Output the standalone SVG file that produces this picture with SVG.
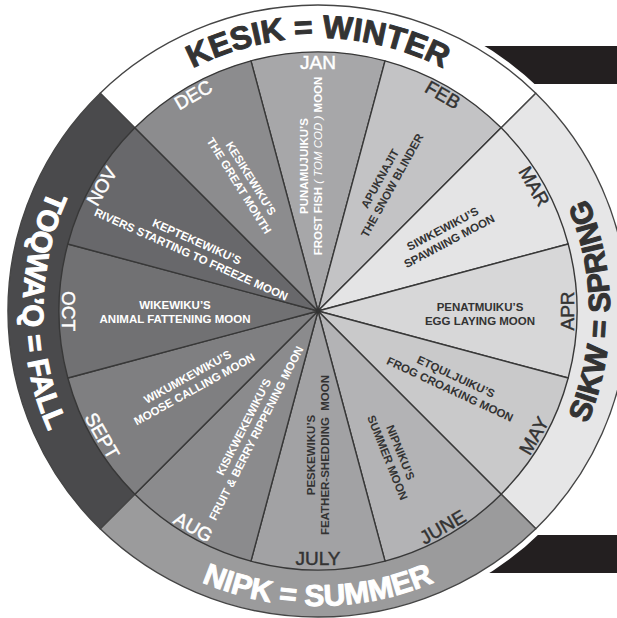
<svg xmlns="http://www.w3.org/2000/svg" width="617" height="618" viewBox="0 0 617 618">
<style>
.sec{stroke:#383838;stroke-width:1.4;stroke-linejoin:round}
.ring{stroke:#454545;stroke-width:1.4;stroke-linejoin:round}
.season{font-family:"Liberation Sans",Arial,sans-serif;font-weight:bold;stroke-width:1;stroke-linejoin:round}
.mon{font-family:"Liberation Sans",Arial,sans-serif;font-size:19px;text-anchor:middle;stroke-width:0.45}
.moon{font-family:"Liberation Sans",Arial,sans-serif;font-size:11.5px;font-weight:bold;text-anchor:middle}
.w{fill:#ffffff;stroke:#ffffff}
.d{fill:#333333;stroke:#333333}
.moon.w,.moon.d{stroke:none}
.it{font-style:italic;font-weight:normal}
</style>
<defs>
<path id="pWinter" d="M45,311 A273,273 0 0 1 591,311"/>
<path id="pSpring" d="M318,603 A292,292 0 0 0 318,19"/>
<path id="pSummer" d="M23,311 A295,295 0 0 0 613,311"/>
<path id="pFall" d="M318,16 A295,295 0 0 0 318,606"/>
</defs>
<rect width="617" height="618" fill="#ffffff"/>
<g id="bars">
<rect x="440" y="46" width="177" height="38" fill="#231f20"/>
<rect x="440" y="535" width="177" height="38" fill="#231f20"/>
</g>
<ellipse cx="318" cy="311" rx="310" ry="306" fill="#ffffff" stroke="#ffffff" stroke-width="12"/>
<g id="seasons">
<g id="winter">
<path class="ring" fill="#ffffff" d="M318,311 L100.2,93.2 A310,306 0 0 1 535.8,93.2 Z"/>
<text class="season d" font-size="32"><textPath href="#pWinter" startOffset="50%" text-anchor="middle">KESIK = WINTER</textPath></text>
</g>
<g id="spring">
<path class="ring" fill="#e6e6e7" d="M318,311 L535.8,93.2 A310,306 0 0 1 535.8,528.8 Z"/>
<text class="season d" font-size="30.5"><textPath href="#pSpring" startOffset="50%" text-anchor="middle">SIKW = SPRING</textPath></text>
</g>
<g id="summer">
<path class="ring" fill="#9b9b9c" d="M318,311 L535.8,528.8 A310,306 0 0 1 100.2,528.8 Z"/>
<text class="season w" font-size="30"><textPath href="#pSummer" startOffset="50%" text-anchor="middle">NIPK = SUMMER</textPath></text>
</g>
<g id="fall">
<path class="ring" fill="#4a4a4c" d="M318,311 L100.2,528.8 A310,306 0 0 1 100.2,93.2 Z"/>
<text class="season w" font-size="29.5"><textPath href="#pFall" startOffset="50%" text-anchor="middle">TOQWA’Q = FALL</textPath></text>
</g>
</g>
<g id="months">
<g id="jan">
<path class="sec" fill="#a7a7a9" d="M318,311 L250.97,60.82 A259,259 0 0 1 385.03,60.82 Z"/>
<text class="mon w" x="318" y="69">JAN</text>
<g transform="translate(311,166) rotate(-90)"><text class="moon w" y="-3">PUNAMUJUIKU’S</text><text class="moon w" y="11">FROST FISH <tspan class="it">( TOM COD )</tspan> MOON</text></g>
</g>
<g id="feb">
<path class="sec" fill="#c3c3c5" d="M318,311 L385.03,60.82 A259,259 0 0 1 501.14,127.86 Z"/>
<text class="mon d" x="318" y="68" transform="rotate(30 318 311)">FEB</text>
<g transform="translate(386,182) rotate(-61)"><text class="moon d" y="-3">APUKNAJIT</text><text class="moon d" y="11">THE SNOW BLINDER</text></g>
</g>
<g id="mar">
<path class="sec" fill="#e4e4e5" d="M318,311 L501.14,127.86 A259,259 0 0 1 568.18,243.97 Z"/>
<text class="mon d" x="318" y="68" transform="rotate(60 318 311)">MAR</text>
<g transform="translate(446,235) rotate(-28)"><text class="moon d" y="-3">SIWKEWIKU’S</text><text class="moon d" y="11">SPAWNING MOON</text></g>
</g>
<g id="apr">
<path class="sec" fill="#d7d7d8" d="M318,311 L568.18,243.97 A259,259 0 0 1 568.18,378.03 Z"/>
<text class="mon d" x="318" y="567" transform="rotate(-90 318 311)">APR</text>
<g transform="translate(480,314)"><text class="moon d" y="-3">PENATMUIKU’S</text><text class="moon d" y="11">EGG LAYING MOON</text></g>
</g>
<g id="may">
<path class="sec" fill="#c9c9ca" d="M318,311 L568.18,378.03 A259,259 0 0 1 501.14,494.14 Z"/>
<text class="mon d" x="318" y="567" transform="rotate(-60 318 311)">MAY</text>
<g transform="translate(453,383) rotate(25)"><text class="moon d" y="-3">ETQULJUIKU’S</text><text class="moon d" y="11">FROG CROAKING MOON</text></g>
</g>
<g id="june">
<path class="sec" fill="#b3b3b5" d="M318,311 L501.14,494.14 A259,259 0 0 1 385.03,561.18 Z"/>
<text class="mon d" x="318" y="567" transform="rotate(-30 318 311)">JUNE</text>
<g transform="translate(394,455) rotate(68)"><text class="moon d" y="-3">NIPNIKU’S</text><text class="moon d" y="11">SUMMER MOON</text></g>
</g>
<g id="july">
<path class="sec" fill="#a2a2a4" d="M318,311 L385.03,561.18 A259,259 0 0 1 250.97,561.18 Z"/>
<text class="mon d" x="318" y="565">JULY</text>
<g transform="translate(318,455) rotate(-90)"><text class="moon d" y="-3">PESKEWIKU’S</text><text class="moon d" y="11" xml:space="preserve">FEATHER-SHEDDING  MOON</text></g>
</g>
<g id="aug">
<path class="sec" fill="#8b8b8d" d="M318,311 L250.97,561.18 A259,259 0 0 1 134.86,494.14 Z"/>
<text class="mon w" x="318" y="567" transform="rotate(30 318 311)">AUG</text>
<g transform="translate(250,430) rotate(-63)"><text class="moon w" y="-3">KISIKWEKEWIKU’S</text><text class="moon w" y="11">FRUIT &amp; BERRY RIPPENING MOON</text></g>
</g>
<g id="sept">
<path class="sec" fill="#7f7f81" d="M318,311 L134.86,494.14 A259,259 0 0 1 67.82,378.03 Z"/>
<text class="mon w" x="318" y="567" transform="rotate(60 318 311)">SEPT</text>
<g transform="translate(191,383) rotate(-29)"><text class="moon w" y="-3">WIKUMKEWIKU’S</text><text class="moon w" y="11">MOOSE CALLING MOON</text></g>
</g>
<g id="oct">
<path class="sec" fill="#717173" d="M318,311 L67.82,378.03 A259,259 0 0 1 67.82,243.97 Z"/>
<text class="mon w" x="318" y="567" transform="rotate(90 318 311)">OCT</text>
<g transform="translate(175,312)"><text class="moon w" y="-3">WIKEWIKU’S</text><text class="moon w" y="11">ANIMAL FATTENING MOON</text></g>
</g>
<g id="nov">
<path class="sec" fill="#68686b" d="M318,311 L67.82,243.97 A259,259 0 0 1 134.86,127.86 Z"/>
<text class="mon w" x="318" y="68" transform="rotate(-60 318 311)">NOV</text>
<g transform="translate(194,248) rotate(24)"><text class="moon w" y="-3">KEPTEKEWIKU’S</text><text class="moon w" y="11">RIVERS STARTING TO FREEZE MOON</text></g>
</g>
<g id="dec">
<path class="sec" fill="#8c8c8e" d="M318,311 L134.86,127.86 A259,259 0 0 1 250.97,60.82 Z"/>
<text class="mon w" x="318" y="68" transform="rotate(-30 318 311)">DEC</text>
<g transform="translate(245,182) rotate(58)"><text class="moon w" y="-3">KESIKEWIKU’S</text><text class="moon w" y="11">THE GREAT MONTH</text></g>
</g>
</g>
<circle cx="318" cy="311" r="2.2" fill="#333333"/>
</svg>
